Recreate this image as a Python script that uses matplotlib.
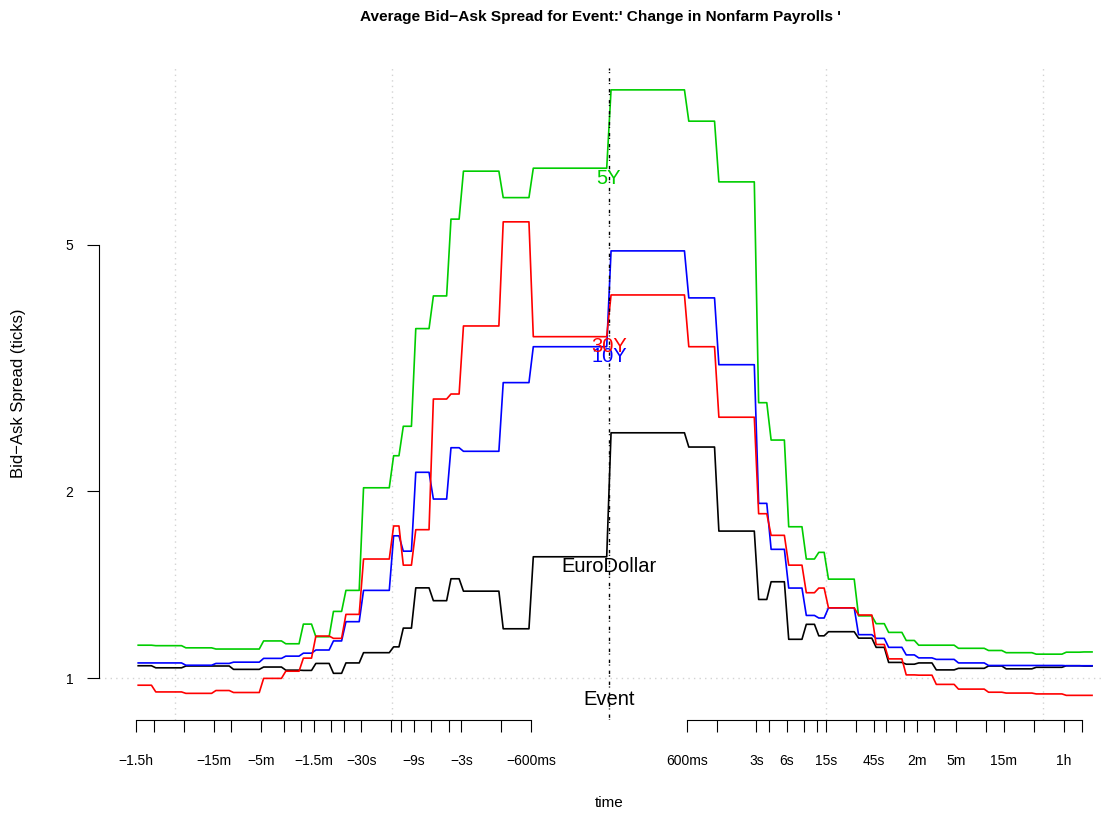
import numpy as np
import matplotlib.pyplot as plt
from matplotlib import transforms
from matplotlib.ticker import NullLocator

plt.rcParams['font.family'] = ['Liberation Sans', 'DejaVu Sans']

# bucket edges, seconds relative to the release
edges_pre = [-5400, -3600, -1800, -900, -600, -300, -180, -120, -90, -60, -45,
             -30, -15, -12, -9, -6, -4, -3, -1.2, -0.6, 0]
edges_post = [0, 0.6, 1.2, 3, 4, 6, 9, 12, 15, 30, 45, 60, 90, 120, 180, 300,
              600, 900, 1800, 3600, 5400, 7200]

# average spread (ticks) per bucket
y5_pre = [1.130, 1.128, 1.119, 1.114, 1.114, 1.148, 1.136, 1.222, 1.166, 1.281,
          1.385, 2.027, 2.283, 2.547, 3.660, 4.132, 5.495, 6.566, 5.952, 6.639]
y5_post = [8.879, 7.905, 6.310, 2.780, 2.420, 1.754, 1.556, 1.595, 1.444, 1.260,
           1.224, 1.185, 1.150, 1.130, 1.130, 1.117, 1.108, 1.099, 1.093, 1.101, 1.102]

y30_pre = [0.974, 0.950, 0.945, 0.955, 0.948, 0.999, 1.026, 1.077, 1.169, 1.159,
           1.267, 1.556, 1.759, 1.521, 1.735, 2.818, 2.871, 3.696, 5.440, 3.552]
y30_post = [4.147, 3.422, 2.634, 1.841, 1.699, 1.521, 1.373, 1.397, 1.298, 1.264,
            1.133, 1.074, 1.012, 1.011, 0.977, 0.960, 0.949, 0.946, 0.943, 0.938, 0.938]

y10_pre = [1.058, 1.058, 1.049, 1.056, 1.061, 1.076, 1.085, 1.097, 1.110, 1.148,
           1.233, 1.385, 1.696, 1.602, 2.147, 1.944, 2.352, 2.321, 2.995, 3.422]
y10_post = [4.884, 4.102, 3.201, 1.913, 1.613, 1.397, 1.262, 1.250, 1.298, 1.175,
            1.159, 1.121, 1.090, 1.078, 1.072, 1.058, 1.048, 1.048, 1.048, 1.047, 1.047]

yed_pre = [1.047, 1.039, 1.046, 1.046, 1.033, 1.042, 1.030, 1.029, 1.056, 1.018,
           1.058, 1.099, 1.123, 1.204, 1.398, 1.333, 1.446, 1.381, 1.201, 1.569]
yed_post = [2.486, 2.358, 1.726, 1.339, 1.430, 1.155, 1.221, 1.170, 1.188, 1.160,
            1.121, 1.060, 1.053, 1.058, 1.031, 1.037, 1.046, 1.035, 1.041, 1.047, 1.046]

tick_times = [-5400, -3600, -1800, -900, -600, -300, -180, -120, -90, -60, -45,
              -30, -15, -12, -9, -6, -4, -3, -1.2, -0.6,
              0.6, 1.2, 3, 4, 6, 9, 12, 15, 30, 45, 60, 90, 120, 180, 300,
              600, 900, 1800, 3600, 5400]
tick_labels = ['\u22121.5h', '', '', '\u221215m', '', '\u22125m', '', '', '\u22121.5m', '',
               '', '\u221230s', '', '', '\u22129s', '', '', '\u22123s', '', '\u2212600ms',
               '600ms', '', '3s', '', '6s', '', '', '15s', '', '45s',
               '', '', '2m', '', '5m', '', '15m', '', '1h', '']


def xpos(t):
    t = np.asarray(t, float)
    return np.sign(t) * np.log(np.maximum(np.abs(t) / 0.1, 1.0))


def step_xy(edges, vals, gap=0.05):
    xe = xpos(edges)
    xs, ys = [], []
    for i, v in enumerate(vals):
        xs += [xe[i] + gap, xe[i + 1] - gap]
        ys += [v, v]
    return xs, ys


W, H = 1107, 815
fig = plt.figure(figsize=(W / 100, H / 100), dpi=100)
ax = fig.add_axes([99 / W, 95 / H, (1104 - 99) / W, (720 - 68) / H])
ax.set_yscale('log')
ax.set_xlim(-11.75, 11.41)
ax.set_ylim(0.856, 9.63)

# grid
for gx in [-10, -5, 5, 10]:
    ax.axvline(gx, color='lightgray', lw=1, ls=(0, (1, 3)), zorder=1)
ax.axhline(1, color='lightgray', lw=1, ls=(0, (1, 3)), zorder=1)

series = [
    ('EuroDollar', yed_pre, yed_post, 'black'),
    ('5Y', y5_pre, y5_post, '#00CD00'),
    ('10Y', y10_pre, y10_post, 'blue'),
    ('30Y', y30_pre, y30_post, 'red'),
]
for name, pre, post, col in series:
    x1, v1 = step_xy(edges_pre, pre)
    x2, v2 = step_xy(edges_post, post)
    ax.plot(x1 + x2, v1 + v2, color=col, lw=1.2, zorder=3)

ax.axvline(0, color='black', lw=1, ls=(0, (0.8, 1.1, 2.4, 3.6)), zorder=4)

for name, pre, post, col in series:
    ax.annotate(name, (0, pre[-1]), xytext=(0, -10), textcoords='offset pixels',
                ha='center', va='center', color=col, fontsize=14.5, zorder=5)

trans = transforms.blended_transform_factory(ax.transData, ax.transAxes)
ax.text(0, 0.031, 'Event', transform=trans, ha='center', va='center', fontsize=14.5)

# axes in R style
for s in ['top', 'right', 'bottom']:
    ax.spines[s].set_visible(False)
ax.spines['left'].set_bounds(1, 5)
ax.spines['left'].set_linewidth(0.8)
ax.yaxis.set_minor_locator(NullLocator())
ax.set_yticks([1, 2, 5])
ax.set_yticklabels(['1', '2', '5'])
ax.tick_params(axis='y', direction='out', length=8.6, width=0.8, pad=10, labelsize=10)

ax.set_xticks(xpos(tick_times))
ax.set_xticklabels(tick_labels)
ax.tick_params(axis='x', direction='out', length=8.6, width=0.8, pad=16, labelsize=10)
xa = xpos([-5400, -0.6])
xb = xpos([0.6, 5400])
ax.plot(xa, [0, 0], transform=trans, color='black', lw=0.8, clip_on=False)
ax.plot(xb, [0, 0], transform=trans, color='black', lw=0.8, clip_on=False)

fig.text(600 / W, 1 - 17 / H, "Average Bid\u2212Ask Spread for Event:' Change in Nonfarm Payrolls '",
         ha='center', va='center', fontsize=11.1, fontweight='bold')
fig.text(609 / W, 1 - 803 / H, 'time', ha='center', va='center', fontsize=11)
fig.text(18 / W, 1 - 393 / H, 'Bid\u2212Ask Spread (ticks)', ha='center', va='center',
         rotation=90, fontsize=12)

fig.savefig('out.png', dpi=100)
